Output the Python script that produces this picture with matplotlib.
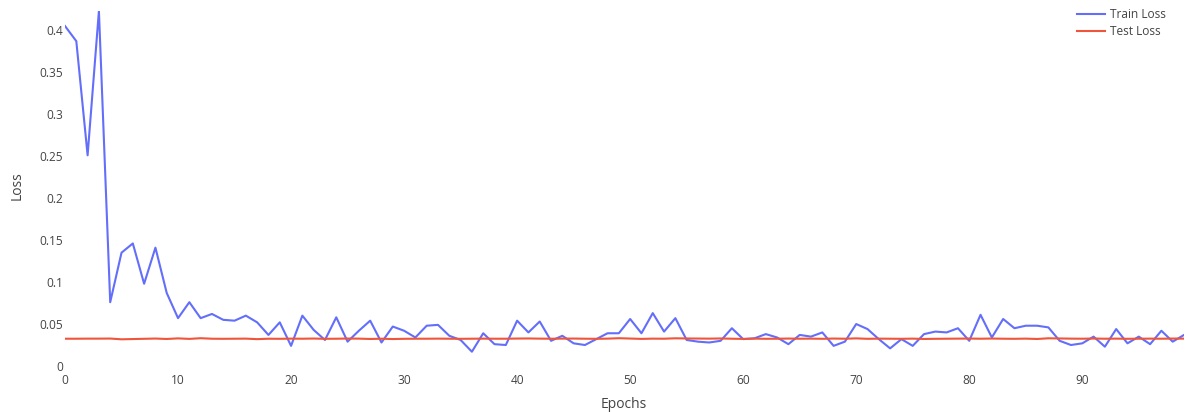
import matplotlib.pyplot as plt
from matplotlib.ticker import FuncFormatter

# loss per epoch
epochs = list(range(100))
train_loss = [
    0.405, 0.387, 0.251, 0.423, 0.076, 0.135, 0.146, 0.098, 0.141, 0.087,
    0.057, 0.076, 0.057, 0.062, 0.055, 0.054, 0.060, 0.052, 0.037, 0.052,
    0.024, 0.060, 0.043, 0.031, 0.058, 0.029, 0.042, 0.054, 0.028, 0.047,
    0.042, 0.034, 0.048, 0.049, 0.036, 0.031, 0.017, 0.039, 0.026, 0.025,
    0.054, 0.040, 0.053, 0.030, 0.036, 0.027, 0.025, 0.032, 0.039, 0.039,
    0.056, 0.039, 0.063, 0.041, 0.057, 0.031, 0.029, 0.028, 0.030, 0.045,
    0.032, 0.033, 0.038, 0.034, 0.026, 0.037, 0.035, 0.040, 0.024, 0.029,
    0.050, 0.044, 0.032, 0.021, 0.032, 0.024, 0.038, 0.041, 0.040, 0.045,
    0.030, 0.061, 0.034, 0.056, 0.045, 0.048, 0.048, 0.046, 0.030, 0.025,
    0.027, 0.035, 0.023, 0.044, 0.027, 0.035, 0.026, 0.042, 0.029, 0.037,
]
test_loss = [
    0.0325, 0.0325, 0.0326, 0.0326, 0.0327, 0.0318, 0.0321, 0.0324, 0.0327, 0.0322,
    0.0329, 0.0323, 0.0331, 0.0325, 0.0324, 0.0325, 0.0326, 0.0320, 0.0325, 0.0324,
    0.0326, 0.0325, 0.0327, 0.0324, 0.0325, 0.0327, 0.0326, 0.0322, 0.0325, 0.0321,
    0.0324, 0.0325, 0.0325, 0.0326, 0.0325, 0.0324, 0.0325, 0.0326, 0.0325, 0.0325,
    0.0327, 0.0328, 0.0326, 0.0325, 0.0326, 0.0327, 0.0325, 0.0324, 0.0326, 0.0331,
    0.0327, 0.0323, 0.0326, 0.0325, 0.0330, 0.0328, 0.0327, 0.0326, 0.0328, 0.0325,
    0.0323, 0.0326, 0.0324, 0.0325, 0.0327, 0.0325, 0.0326, 0.0324, 0.0327, 0.0325,
    0.0329, 0.0324, 0.0326, 0.0325, 0.0324, 0.0326, 0.0322, 0.0324, 0.0325, 0.0326,
    0.0327, 0.0325, 0.0327, 0.0325, 0.0324, 0.0326, 0.0322, 0.0330, 0.0328, 0.0326,
    0.0325, 0.0327, 0.0325, 0.0326, 0.0324, 0.0325, 0.0326, 0.0325, 0.0327, 0.0326,
]

plt.rcParams['font.family'] = ['Open Sans', 'DejaVu Sans']
W, H = 1188, 412
fig = plt.figure(figsize=(W / 100, H / 100), dpi=100)
# plot area in pixels: x 65..1184, y 10.5..366
ax = fig.add_axes([65 / W, (H - 366) / H, (1184 - 65) / W, (366 - 10.5) / H])

ax.plot(epochs, train_loss, color='#636efa', lw=1.5, label='Train Loss')
ax.plot(epochs, test_loss, color='#EF553B', lw=1.5, label='Test Loss')

ax.set_xlim(0, 99)
ax.set_ylim(0, 0.4235)
ax.set_xticks(range(0, 100, 10))
ax.set_yticks([0, 0.05, 0.1, 0.15, 0.2, 0.25, 0.3, 0.35, 0.4])
ax.yaxis.set_major_formatter(FuncFormatter(lambda v, p: f'{v:g}'))
for s in ax.spines.values():
    s.set_visible(False)
ax.tick_params(length=0, colors='#444444', labelsize=8.6)
ax.tick_params(axis='y', pad=1.5)
ax.tick_params(axis='x', pad=6)

xl = ax.set_xlabel('Epochs', fontsize=10, color='#444444')
yl = ax.set_ylabel('Loss', fontsize=10, color='#444444')
xl.set_va('center')
yl.set_va('center')
ax.xaxis.set_label_coords(624 / W, 1 - 404 / H, transform=fig.transFigure)
ax.yaxis.set_label_coords(17 / W, 1 - 186 / H, transform=fig.transFigure)

ax.legend(loc='upper left', bbox_to_anchor=(1069 / W, 1 - 0 / H),
          bbox_transform=fig.transFigure, frameon=False, fontsize=8.6,
          labelcolor='#444444', handlelength=2.3, handletextpad=0.45,
          labelspacing=0.3, borderpad=0.2)

fig.savefig('out.png', dpi=100)
